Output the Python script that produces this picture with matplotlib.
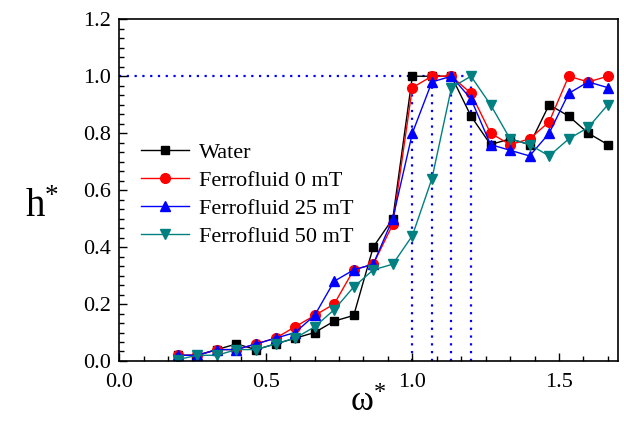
import numpy as np
import matplotlib
matplotlib.use("Agg")
import matplotlib.pyplot as plt
from matplotlib.ticker import MultipleLocator, FormatStrFormatter

plt.rcParams['font.family'] = ['Liberation Serif', 'DejaVu Serif']
plt.rcParams['mathtext.fontset'] = 'custom'
plt.rcParams['mathtext.rm'] = 'Liberation Serif'
plt.rcParams['mathtext.it'] = 'Liberation Serif'
plt.rcParams['mathtext.default'] = 'regular'

# omega* values (steps of 1/15)
omega = np.arange(3, 26) / 15.0

water = [0.02, 0.02, 0.04, 0.06, 0.04, 0.06, 0.08, 0.10, 0.14, 0.16, 0.40, 0.50,
         1.00, 1.00, 1.00, 0.86, 0.76, 0.78, 0.76, 0.90, 0.86, 0.80, 0.76]
ferro_0 = [0.02, 0.02, 0.04, 0.04, 0.06, 0.08, 0.12, 0.16, 0.20, 0.32, 0.34, 0.48,
           0.96, 1.00, 1.00, 0.94, 0.80, 0.76, 0.78, 0.84, 1.00, 0.98, 1.00]
ferro_25 = [0.02, 0.02, 0.04, 0.04, 0.06, 0.08, 0.10, 0.16, 0.28, 0.32, 0.34, 0.50,
            0.80, 0.98, 1.00, 0.92, 0.76, 0.74, 0.72, 0.80, 0.94, 0.98, 0.96]
ferro_50 = [0.005, 0.02, 0.02, 0.04, 0.04, 0.06, 0.08, 0.12, 0.18, 0.26, 0.32, 0.34,
            0.44, 0.64, 0.96, 1.00, 0.90, 0.78, 0.76, 0.72, 0.78, 0.82, 0.90]

# resonance frequencies of each case (peak positions)
peaks = [1.0, 16 / 15, 17 / 15, 1.2]

fig = plt.figure(figsize=(6.24, 4.23), dpi=100)
ax = fig.add_axes([0.191, 0.1466, 0.7987, 0.8078])

# guide lines
ax.plot([0, peaks[-1]], [1.0, 1.0], color='#0000ff', ls=(0, (1, 2.5)), lw=1.6, zorder=1)
for p in peaks:
    ax.plot([p, p], [0, 1.0], color='#0000ff', ls=(0, (1, 2.5)), lw=1.6, zorder=1)

ax.plot(omega, water, '-s', color='#000000', lw=1, ms=6, label='Water')
ax.plot(omega, ferro_0, '-o', color='#ff0000', lw=1, ms=7, label='Ferrofluid 0 mT')
ax.plot(omega, ferro_25, '-^', color='#0000ff', lw=1, ms=7, label='Ferrofluid 25 mT')
ax.plot(omega, ferro_50, '-v', color='#008080', lw=1, ms=7, label='Ferrofluid 50 mT')

ax.set_xlim(0, 1.7)
ax.set_ylim(0, 1.2)
ax.xaxis.set_major_locator(MultipleLocator(0.5))
ax.xaxis.set_minor_locator(MultipleLocator(0.5 / 6))
ax.yaxis.set_major_locator(MultipleLocator(0.2))
ax.yaxis.set_minor_locator(MultipleLocator(0.2 / 6))
ax.tick_params(which='both', direction='in', top=False, right=False, labelsize=16, width=1)
ax.tick_params(which='major', length=6)
ax.tick_params(which='minor', length=3.5)
ax.tick_params(axis='x', pad=9)
ax.tick_params(axis='y', pad=6)
for s in ax.spines.values():
    s.set_linewidth(1.2)
ax.xaxis.set_major_formatter(FormatStrFormatter('%.1f'))
ax.yaxis.set_major_formatter(FormatStrFormatter('%.1f'))

ax.set_xlabel(r'$\omega^{*}$', fontsize=25, va='baseline')
ax.xaxis.set_label_coords(0.5, -0.145)
ax.set_ylabel(r'h$^{*}$', fontsize=28, rotation=0, va='center', ha='center')
ax.yaxis.set_label_coords(-0.155, 0.45)

ax.legend(loc='upper left', bbox_to_anchor=(0.025, 0.665), frameon=False, fontsize=16,
          handlelength=2.2, labelspacing=0.33, handletextpad=0.45, borderaxespad=0)

fig.savefig('out.png', dpi=100)
